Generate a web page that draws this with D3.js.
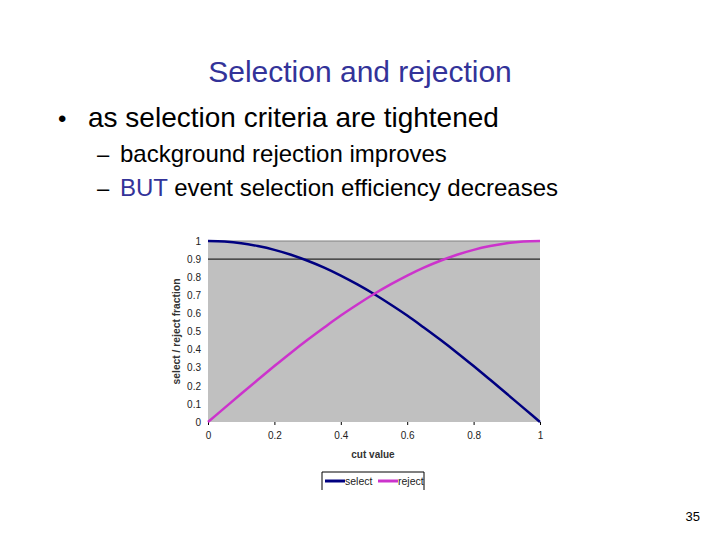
<!DOCTYPE html>
<html><head><meta charset="utf-8">
<script src="https://cdn.jsdelivr.net/npm/d3@7"></script>
<style>body{margin:0;background:#fff;}svg{display:block;}</style>
</head><body>
<svg id="c" width="720" height="540"></svg>
<script>
const cutValues = [0,0.05,0.1,0.15,0.2,0.25,0.3,0.35,0.4,0.45,0.5,0.55,0.6,0.65,0.7,0.75,0.8,0.85,0.9,0.95,1];
const selectVals = [1,0.997,0.988,0.972,0.951,0.924,0.891,0.853,0.809,0.760,0.707,0.649,0.588,0.522,0.454,0.383,0.309,0.233,0.156,0.078,0];
const rejectVals = [0,0.078,0.156,0.233,0.309,0.383,0.454,0.522,0.588,0.649,0.707,0.760,0.809,0.853,0.891,0.924,0.951,0.972,0.988,0.997,1];
const xTicks = [0,0.2,0.4,0.6,0.8,1];
const yTicks = [0,0.1,0.2,0.3,0.4,0.5,0.6,0.7,0.8,0.9,1];
const refLine = 0.9;
const seriesNames = ["select","reject"];
const seriesColors = ["#000080","#CC33CC"];

const svg = d3.select("#c");
const F = "Arial, 'Liberation Sans', sans-serif";

// slide text
svg.append("text").attr("x",360).attr("y",82).attr("text-anchor","middle")
  .attr("font-family",F).attr("font-size",30).attr("fill","#333399").text("Selection and rejection");
svg.append("text").attr("x",58).attr("y",127).attr("font-family",F).attr("font-size",24).text("•");
svg.append("text").attr("x",88).attr("y",127).attr("font-family",F).attr("font-size",28).attr("fill","#000").text("as selection criteria are tightened");
svg.append("text").attr("x",97).attr("y",162).attr("font-family",F).attr("font-size",22).text("–");
svg.append("text").attr("x",120).attr("y",162).attr("font-family",F).attr("font-size",24).text("background rejection improves");
svg.append("text").attr("x",97).attr("y",196).attr("font-family",F).attr("font-size",22).text("–");
const t3 = svg.append("text").attr("x",120).attr("y",196).attr("font-family",F).attr("font-size",24);
t3.append("tspan").attr("fill","#333399").text("BUT");
t3.append("tspan").attr("fill","#000").text(" event selection efficiency decreases");
svg.append("text").attr("x",700).attr("y",521).attr("text-anchor","end").attr("font-family",F).attr("font-size",13).text("35");

// chart
const x = d3.scaleLinear().domain([0,1]).range([208,540]);
const y = d3.scaleLinear().domain([0,1]).range([422,241]);

svg.append("rect").attr("x",x(0)).attr("y",y(1)).attr("width",x(1)-x(0)).attr("height",y(0)-y(1)).attr("fill","#C0C0C0");
svg.append("line").attr("x1",x(0)).attr("x2",x(1)).attr("y1",y(1)).attr("y2",y(1)).attr("stroke","#808080").attr("stroke-width",1);
svg.append("line").attr("x1",x(0)).attr("x2",x(1)).attr("y1",y(refLine)).attr("y2",y(refLine)).attr("stroke","#000").attr("stroke-width",1);

const yAxis = svg.append("g").attr("transform",`translate(${x(0)},0)`)
  .call(d3.axisLeft(y).tickValues(yTicks).tickSize(0).tickPadding(7).tickFormat(d3.format("")));
yAxis.select(".domain").remove();
yAxis.selectAll("text").attr("font-family",F).attr("font-size",10).attr("fill","#222");

const xAxis = svg.append("g").attr("transform",`translate(0,${y(0)})`)
  .call(d3.axisBottom(x).tickValues(xTicks).tickSize(3).tickPadding(7).tickFormat(d3.format("")));
xAxis.select(".domain").remove();
xAxis.selectAll("line").attr("stroke","#000");
xAxis.selectAll("text").attr("font-family",F).attr("font-size",10).attr("fill","#222");

svg.append("text").attr("x",373).attr("y",458).attr("text-anchor","middle").attr("font-family",F)
  .attr("font-size",10).attr("font-weight","bold").attr("fill","#333").text("cut value");
svg.append("text").attr("transform",`translate(180,${(y(0)+y(1))/2}) rotate(-90)`).attr("text-anchor","middle")
  .attr("font-family",F).attr("font-size",10.3).attr("font-weight","bold").attr("fill","#333").text("select / reject fraction");

const line = d3.line().x((d,i)=>x(cutValues[i])).y(d=>y(d)).curve(d3.curveMonotoneX);
[selectVals,rejectVals].forEach((vals,k)=>{
  svg.append("path").datum(vals).attr("d",line).attr("fill","none")
    .attr("stroke",seriesColors[k]).attr("stroke-width",2.5);
});

// legend
const lg = svg.append("g");
lg.append("path").attr("d","M322,490 V472 H424 V490").attr("fill","none").attr("stroke","#000").attr("stroke-width",1);
const legX = [325,378];
seriesNames.forEach((n,k)=>{
  lg.append("line").attr("x1",legX[k]).attr("x2",legX[k]+20).attr("y1",481).attr("y2",481)
    .attr("stroke",seriesColors[k]).attr("stroke-width",3);
  lg.append("text").attr("x",legX[k]+20).attr("y",484.5).attr("font-family",F).attr("font-size",10.5).attr("fill","#222").text(n);
});
</script>
</body></html>
